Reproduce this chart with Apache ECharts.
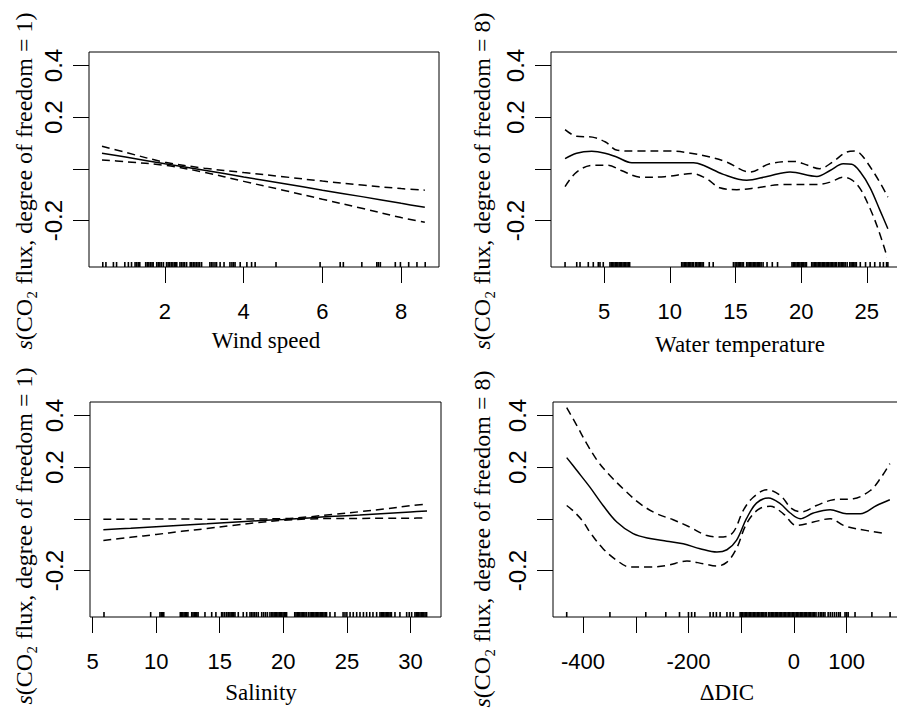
<!DOCTYPE html>
<html><head><meta charset="utf-8">
<script src="https://cdn.jsdelivr.net/npm/echarts@6/dist/echarts.min.js"></script>
<style>html,body{margin:0;padding:0;background:#fff}#c{width:897px;height:711px}</style>
</head><body><div id="c"></div>
<script>
// ---------- Panel 1: Wind speed ----------
const windX     = [0.4, 1, 2, 3, 4, 5, 6, 7, 8, 8.6];
const windFit   = [0.061, 0.046, 0.020, -0.005, -0.031, -0.056, -0.082, -0.107, -0.133, -0.148];
const windUpper = [0.088, 0.064, 0.026, 0.003, -0.014, -0.030, -0.047, -0.062, -0.076, -0.082];
const windLower = [0.035, 0.028, 0.014, -0.013, -0.048, -0.082, -0.117, -0.152, -0.188, -0.206];
const windRug = [0.42, 0.50, 0.69, 0.77, 0.98, 1.07, 1.15, 1.24, 1.28, 1.32, 1.36, 1.51, 1.55, 1.59, 1.63, 1.67, 1.70,
  1.79, 1.83, 1.87, 1.91, 1.96, 2.04, 2.08, 2.12, 2.16, 2.20, 2.24, 2.27, 2.30, 2.38, 2.42, 2.46, 2.50, 2.55,
  2.64, 2.68, 2.72, 2.76, 2.80, 2.84, 2.88, 2.93, 3.14, 3.18, 3.22, 3.27, 3.31, 3.40, 3.50, 3.65, 3.70, 3.74, 3.78,
  3.91, 4.08, 4.20, 4.29, 4.82, 5.94, 6.45, 6.53, 7.0, 7.38, 7.42, 7.47, 7.85, 7.98, 8.19, 8.40, 8.61];

// ---------- Panel 2: Water temperature ----------
const tempX   = [2.02, 2.9, 4.05, 5.06, 5.95, 7.1, 8.5, 10, 11.8, 12.55, 14.07, 15.85, 17.4, 19.15, 21.2, 22.2, 23.2, 23.85, 24.5, 25.25, 26.0, 26.6];
const tempFit = [0.040, 0.061, 0.068, 0.061, 0.046, 0.024, 0.024, 0.024, 0.024, 0.014, -0.021, -0.044, -0.029, -0.012, -0.029, -0.006, 0.020, 0.018, -0.012, -0.073, -0.160, -0.231];
const tempUpperX = [2.02, 2.9, 4.1, 5.1, 6.0, 7.5, 10, 11.6, 12.8, 14.3, 16.1, 17.6, 19.5, 20.5, 21.4, 22.4, 23.45, 24.1, 24.5, 25.0, 25.9, 26.6];
const tempUpper  = [0.152, 0.126, 0.123, 0.104, 0.072, 0.069, 0.069, 0.061, 0.049, 0.027, -0.012, 0.020, 0.029, 0.014, 0.001, 0.027, 0.065, 0.069, 0.059, 0.027, -0.044, -0.109];
const tempLowerX = [2.02, 2.9, 4.1, 5.3, 6.3, 7.8, 9.6, 11.7, 12.8, 13.8, 15.1, 16.6, 18.6, 21.2, 22.2, 23.2, 23.85, 24.5, 25.25, 25.9, 26.55];
const tempLower  = [-0.068, -0.012, 0.014, 0.014, -0.006, -0.032, -0.030, -0.018, -0.038, -0.073, -0.080, -0.073, -0.060, -0.060, -0.051, -0.032, -0.042, -0.077, -0.154, -0.238, -0.341];
const tempRug = [2.02, 2.91, 3.16, 3.79, 4.17, 4.55, 4.68, 4.93,
  5.44, 5.54, 5.64, 5.74, 5.84, 5.94, 6.04, 6.14, 6.24, 6.34, 6.44, 6.54, 6.64, 6.74, 6.84, 6.94,
  10.9, 11.0, 11.1, 11.2, 11.3, 11.4, 11.5, 11.6, 11.7, 11.8,
  11.95, 12.05, 12.15, 12.25, 12.35, 12.45, 12.55, 13.0, 13.3,
  14.84, 14.97, 15.1, 15.2, 15.3, 15.4, 15.5, 15.6,
  15.85, 15.95, 16.05, 16.15, 16.25, 16.35, 16.45, 16.55, 16.65, 16.75, 16.85, 16.95, 17.1,
  17.4, 17.8, 18.2,
  19.3, 19.4, 19.5, 19.6, 19.7, 19.8, 19.9, 20.0, 20.1, 20.2, 20.3, 20.4,
  20.8, 20.9, 21.0, 21.1, 21.2, 21.3, 21.4, 21.5, 21.6, 21.7, 21.8, 21.9, 22.0, 22.1, 22.2, 22.3, 22.4, 22.5, 22.6, 22.7,
  22.85, 22.95, 23.05, 23.15, 23.25, 23.35, 23.5,
  23.7, 23.8, 23.9, 24.0, 24.1, 24.2,
  24.5, 24.9, 25.25, 25.6, 26.0, 26.26, 26.5, 26.6];

// ---------- Panel 3: Salinity ----------
const salX     = [5.85, 8, 10, 12, 14, 16, 18, 20, 22, 24, 26, 28, 30, 31.3];
const salFit   = [-0.042, -0.036, -0.030, -0.024, -0.019, -0.013, -0.007, -0.002, 0.004, 0.010, 0.015, 0.021, 0.027, 0.031];
const salUpper = [-0.001, -0.001, 0.000, 0.000, -0.001, -0.001, 0.000, 0.001, 0.008, 0.018, 0.028, 0.039, 0.051, 0.058];
const salLower = [-0.083, -0.071, -0.060, -0.048, -0.037, -0.025, -0.014, -0.005, 0.000, 0.002, 0.002, 0.003, 0.003, 0.004];
const salRug = [5.9, 9.57, 10.3, 10.4, 10.5, 10.6,
  11.9, 12.0, 12.1, 12.2, 12.3, 12.4, 12.5, 12.8, 12.9, 13.0, 13.1, 13.2, 13.3,
  13.84, 14.37, 14.7, 15.15, 15.25, 15.4, 15.55, 15.67, 15.8, 15.9, 16.0, 16.1, 16.2,
  16.46, 16.85, 17.12, 17.38, 17.5, 17.62, 17.75, 17.88, 18.03, 18.3, 18.45, 18.6, 18.75, 18.95,
  19.08, 19.18, 19.28, 19.38, 19.48, 19.58, 19.68, 19.78, 19.88, 19.98, 20.08, 20.18, 20.26,
  20.9, 21.0, 21.1, 21.2, 21.3, 21.4, 21.5, 21.6, 21.7, 21.8, 21.96,
  22.1, 22.2, 22.3, 22.4, 22.5, 22.6, 22.7, 22.8, 22.9, 23.0, 23.1, 23.2, 23.3, 23.4,
  23.67, 24.06, 24.7, 24.85, 25.0, 25.25, 25.5, 25.77, 26.03, 26.3, 26.55, 26.8, 27.05, 27.34,
  27.6, 27.7, 27.8, 27.9, 28.0, 28.1, 28.2, 28.3, 28.4, 28.5, 28.78, 29.17, 29.7, 29.9, 30.09,
  30.35, 30.45, 30.55, 30.65, 30.75, 30.85, 30.95, 31.05, 31.15, 31.27];

// ---------- Panel 4: ΔDIC ----------
const dicX   = [-431, -412, -387, -362, -336, -305, -273, -241, -210, -178, -146, -127, -109, -90, -71, -48, -26, -7, 12, 37, 69, 100, 126, 157, 182];
const dicFit = [0.237, 0.188, 0.123, 0.052, -0.012, -0.057, -0.076, -0.086, -0.096, -0.115, -0.128, -0.119, -0.083, 0.001, 0.061, 0.081, 0.059, 0.023, 0.001, 0.023, 0.036, 0.020, 0.020, 0.052, 0.074];
const dicUpperX = [-431, -412, -393, -371, -349, -324, -292, -260, -229, -197, -165, -134, -115, -96, -77, -51, -26, -4, 15, 43, 75, 113, 145, 164, 182];
const dicUpper  = [0.430, 0.362, 0.291, 0.220, 0.168, 0.117, 0.059, 0.020, -0.003, -0.032, -0.064, -0.070, -0.051, 0.033, 0.084, 0.113, 0.091, 0.040, 0.027, 0.052, 0.074, 0.078, 0.110, 0.156, 0.214];
const dicLowerX = [-431, -418, -400, -387, -362, -336, -311, -273, -241, -203, -172, -146, -127, -109, -90, -68, -45, -20, 5, 37, 69, 94, 119, 170];
const dicLower  = [0.052, 0.030, -0.010, -0.051, -0.115, -0.160, -0.186, -0.186, -0.180, -0.163, -0.173, -0.182, -0.167, -0.115, -0.019, 0.036, 0.049, 0.020, -0.025, -0.012, 0.001, -0.025, -0.038, -0.055];
const dicRug = [-431, -349, -281, -243, -217, -200, -194, -188, -159, -153, -147, -140, -127, -121, -115,
  -102, -99.5, -97, -94.5, -92, -89.5, -87, -84.5, -82, -79.5, -77, -74.5, -72, -69.5, -67, -64.5, -62, -59.5, -57, -54.5, -52,
  -48, -45.5, -43, -40.5, -38, -35.5, -33, -30.5, -28, -25.5, -23, -20.5, -18, -15.5, -13, -10.5, -8, -5.5, -3, -0.5,
  2, 4.5, 7, 9.5, 12, 14.5, 17, 19.5, 22, 24.5, 27, 29.5, 32, 34.5, 37, 39.5, 42,
  46.5, 50, 53, 56, 59, 65, 69, 73, 77, 81, 85, 88, 97, 100, 103, 116, 148, 182.5];

// ---------- Axis ticks / labels ----------
const yTicks = [-0.2, 0, 0.2, 0.4];
const yLabels = [-0.2, 0.2, 0.4];
const windTicks = [2, 4, 6, 8];
const tempTicks = [5, 10, 15, 20, 25];
const salTicks = [5, 10, 15, 20, 25, 30];
const dicTicks = [-400, -300, -200, -100, 0, 100];
const dicLabels = [-400, -200, 0, 100];

const xTitles = ['Wind speed', 'Water temperature', 'Salinity', '\u0394DIC'];
const yTitles = ['{i|s}(CO\u2082 flux, degree of freedom = 1)', '{i|s}(CO\u2082 flux, degree of freedom = 8)',
                 '{i|s}(CO\u2082 flux, degree of freedom = 1)', '{i|s}(CO\u2082 flux, degree of freedom = 8)'];

// ---------- Layout ----------
const yMin = -0.379, yMax = 0.452;
const panels = [
  {grid:{left:89, top:52, width:350, height:215}, xmin:0.07, xmax:8.96, ticks:windTicks, labels:windTicks,
   fit:[windX, windFit], up:[windX, windUpper], lo:[windX, windLower], rug:windRug,
   xt:{x:266, y:340}, yt:{x:24, y:181}},
  {grid:{left:551, top:52, width:350, height:215}, xmin:0.95, xmax:27.6, ticks:tempTicks, labels:tempTicks,
   fit:[tempX, tempFit], up:[tempUpperX, tempUpper], lo:[tempLowerX, tempLower], rug:tempRug,
   xt:{x:740, y:344}, yt:{x:482, y:181}},
  {grid:{left:90, top:402, width:351, height:215}, xmin:4.8, xmax:32.4, ticks:salTicks, labels:salTicks,
   fit:[salX, salFit], up:[salX, salUpper], lo:[salX, salLower], rug:salRug,
   xt:{x:261, y:692}, yt:{x:24, y:536}},
  {grid:{left:553, top:402, width:350, height:215}, xmin:-457, xmax:207, ticks:dicTicks, labels:dicLabels,
   fit:[dicX, dicFit], up:[dicUpperX, dicUpper], lo:[dicLowerX, dicLower], rug:dicRug,
   xt:{x:727, y:692}, yt:{x:482, y:539}}
];

const zip = (xs, ys) => xs.map((x, i) => [x, ys[i]]);
const SANS = 'Liberation Sans';
const SERIF = 'Liberation Serif';
const labelFont = {fontFamily:SANS, fontSize:22, color:'#000'};

const option = {
  animation:false,
  backgroundColor:'#fff',
  grid: panels.map(p => Object.assign({show:true, borderColor:'#000', borderWidth:1, backgroundColor:'transparent',
        containLabel:false, outerBoundsMode:'none'}, p.grid)),
  xAxis: panels.map((p, i) => ({
    type:'value', gridIndex:i, min:p.xmin, max:p.xmax, position:'bottom',
    axisLine:{show:false, onZero:false}, splitLine:{show:false},
    axisTick:{show:true, length:16, customValues:p.ticks, lineStyle:{color:'#000', width:1}},
    axisLabel:Object.assign({show:true, customValues:p.labels, margin:33, hideOverlap:false}, labelFont)
  })),
  yAxis: panels.map((p, i) => ({
    type:'value', gridIndex:i, min:yMin, max:yMax, position:'left',
    axisLine:{show:false, onZero:false}, splitLine:{show:false},
    axisTick:{show:true, length:16, customValues:yTicks, lineStyle:{color:'#000', width:1}},
    axisLabel:Object.assign({show:true, customValues:yLabels, rotate:90, margin:24, hideOverlap:false}, labelFont, {fontSize:24})
  })),
  series: [],
  graphic: []
};

panels.forEach((p, i) => {
  option.series.push({type:'line', xAxisIndex:i, yAxisIndex:i, data:zip(p.fit[0], p.fit[1]), smooth:0.35,
    showSymbol:false, silent:true, lineStyle:{color:'#000', width:1.5}});
  option.series.push({type:'line', xAxisIndex:i, yAxisIndex:i, data:zip(p.up[0], p.up[1]), smooth:0.35,
    showSymbol:false, silent:true, lineStyle:{color:'#000', width:1.5, type:[8,5]}});
  option.series.push({type:'line', xAxisIndex:i, yAxisIndex:i, data:zip(p.lo[0], p.lo[1]), smooth:0.35,
    showSymbol:false, silent:true, lineStyle:{color:'#000', width:1.5, type:[8,5]}});
  option.series.push({type:'scatter', xAxisIndex:i, yAxisIndex:i, data:p.rug.map(v => [v, yMin]),
    symbol:'rect', symbolSize:[1.6,5], symbolOffset:[0,-2.5], silent:true,
    itemStyle:{color:'#000', opacity:1}});
  option.graphic.push({type:'text', x:p.xt.x, y:p.xt.y, silent:true,
    style:{text:xTitles[i], fontFamily:SERIF, fontSize:23, fill:'#000',
           textAlign:'center', textVerticalAlign:'middle'}});
  option.graphic.push({type:'text', x:p.yt.x, y:p.yt.y, rotation:Math.PI/2, silent:true,
    style:{text:yTitles[i], fontFamily:SERIF, fontSize:24, fill:'#000',
           textAlign:'center', textVerticalAlign:'middle',
           rich:{i:{fontFamily:SERIF, fontSize:24, fontStyle:'italic', fill:'#000'}}}});
});

const chart = echarts.init(document.getElementById('c'), null, {renderer:'svg'});
chart.setOption(option);
</script>
</body></html>
